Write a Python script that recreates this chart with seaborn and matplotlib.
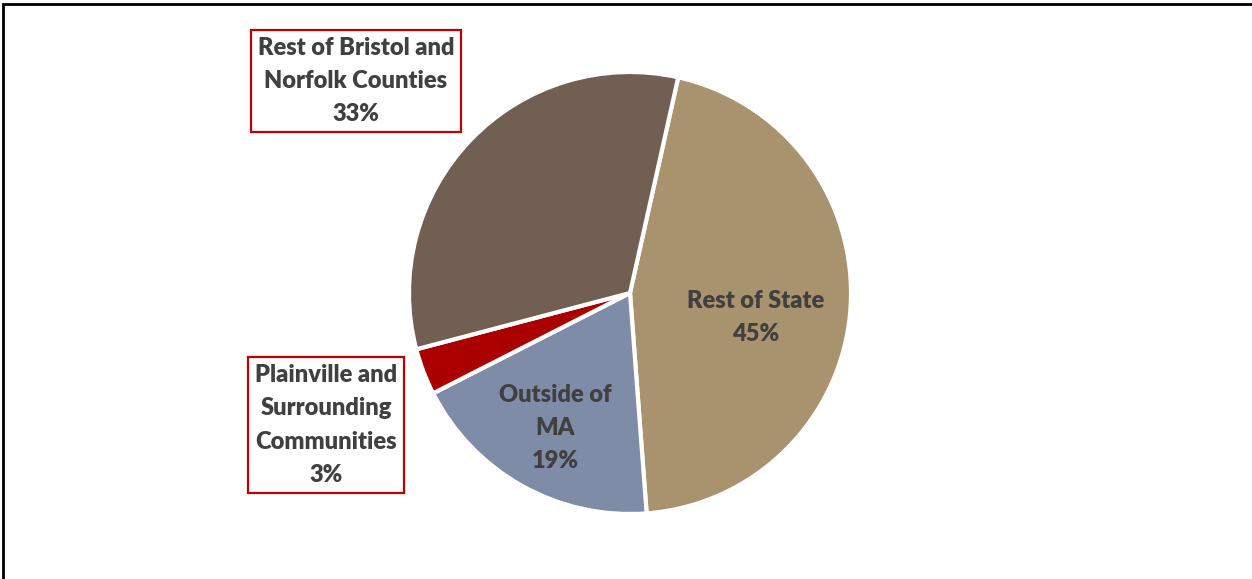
import numpy as np
import matplotlib
matplotlib.use("Agg")
import matplotlib.pyplot as plt
from matplotlib.patches import Rectangle
import seaborn as sns

# share of visitors by origin (clockwise from top)
regions = ["Rest of State", "Outside of\nMA", "Plainville and\nSurrounding\nCommunities",
           "Rest of Bristol and\nNorfolk Counties"]
shares = [45.3, 18.7, 3.4, 32.6]
colors = ["#A9936E", "#7F8CA8", "#AA0000", "#725F53"]

sns.set_theme(style="white")
plt.rcParams['font.family'] = ['Lato', 'DejaVu Sans']

W, H = 1252, 579
fig = plt.figure(figsize=(W / 100, H / 100), dpi=100)
ax = fig.add_axes([0, 0, 1, 1])

cx, cy, r = 630, H - 293, 221
wedges, _ = ax.pie(shares, colors=colors, startangle=77.4, counterclock=False,
                   center=(cx, cy), radius=r, frame=True,
                   wedgeprops=dict(edgecolor="white", linewidth=3))
ax.set_xlim(0, W)
ax.set_ylim(0, H)
ax.set_aspect("equal")
ax.axis("off")

txt = dict(ha="center", va="center", fontsize=17, fontweight="heavy",
           color="#404040", linespacing=1.62)
labels = [f"{n}\n{round(s)}%" for n, s in zip(regions, shares)]

# inner labels placed along each wedge's mid angle
for i, dist, dy in [(0, 0.57, -15), (1, 0.69, -2)]:
    w = wedges[i]
    mid = np.deg2rad((w.theta1 + w.theta2) / 2)
    ax.text(cx + dist * r * np.cos(mid), cy + dist * r * np.sin(mid) + dy,
            labels[i], **txt)

box = dict(boxstyle="square,pad=0.3", facecolor="white", edgecolor="#C00000", linewidth=1.6)
ax.text(356, H - 81, labels[3], bbox=box, **txt)
ax.text(326, H - 425, labels[2], bbox=box, **txt)

# outer frame of the figure box
fig.patches.append(Rectangle((3, -10), W + 20, H - 4 + 10, transform=None,
                             fill=False, edgecolor="black", linewidth=2))

fig.savefig("out.png", dpi=100)
